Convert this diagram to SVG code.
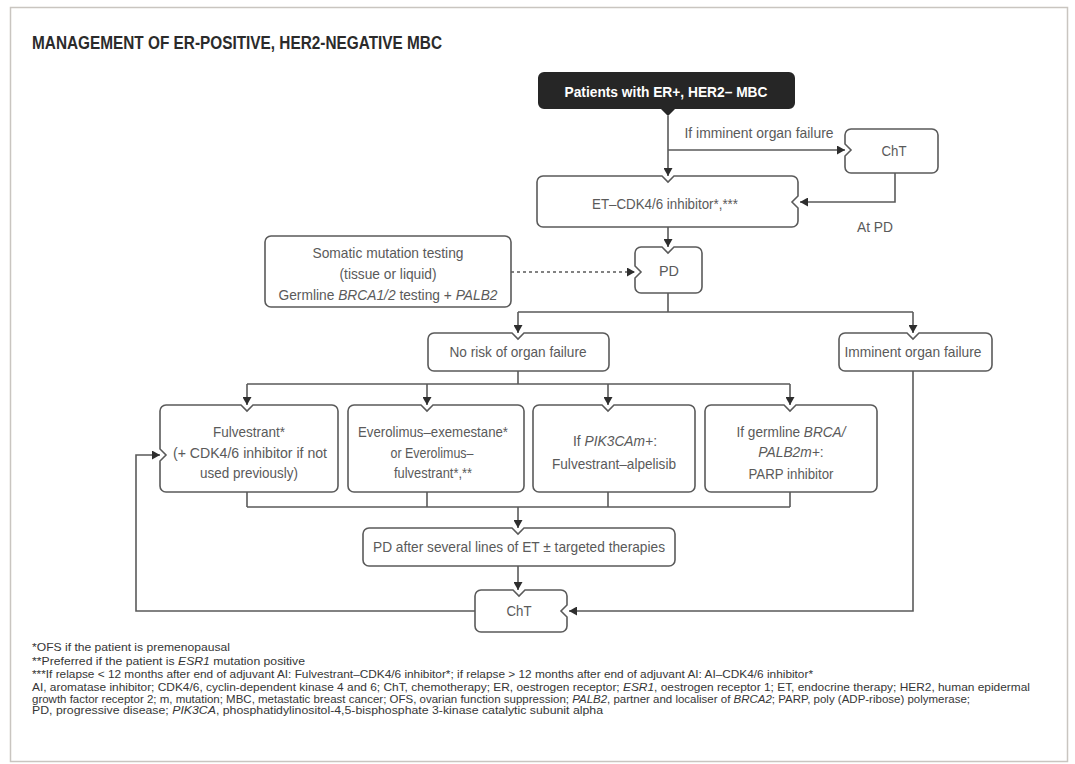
<svg xmlns="http://www.w3.org/2000/svg" width="1075" height="764" viewBox="0 0 1075 764">
<defs>
<marker id="ah" markerUnits="userSpaceOnUse" markerWidth="9" markerHeight="9" refX="8" refY="4.5" orient="auto">
<path d="M0,0 L8,4.5 L0,9 Z" fill="#2e2e2e"/>
</marker>
<style>
.box{fill:#fff;stroke:#5a5a5a;stroke-width:1.6}
.t{font-family:"Liberation Sans",Arial,sans-serif;font-size:14.5px;fill:#5a5a5a;text-anchor:middle}
.ln{fill:none;stroke:#5a5a5a;stroke-width:1.6}
.arr{marker-end:url(#ah)}
.fn{font-family:"Liberation Sans",Arial,sans-serif;font-size:11.5px;fill:#363636}
.i{font-style:italic}
</style>
</defs>
<rect x="0" y="0" width="1075" height="764" fill="#fff"/>
<rect x="10.5" y="7.5" width="1057" height="754" fill="#fff" stroke="#c9c5c0" stroke-width="1.5"/>
<text x="32" y="49" font-family="'Liberation Sans',Arial,sans-serif" font-weight="bold" font-size="18" fill="#2b2b2b" textLength="410" lengthAdjust="spacingAndGlyphs">MANAGEMENT OF ER-POSITIVE, HER2-NEGATIVE MBC</text>

<g id="connectors">
<path class="ln arr" d="M668,116 V176"/>
<path class="ln arr" d="M668,150 H845"/>
<path class="ln arr" d="M895,173 V202 H800"/>
<path class="ln arr" d="M668,227 V247"/>
<path class="ln arr" d="M511,272 H635" stroke-dasharray="3,3"/>
<path class="ln" d="M668,293 V312 M518,312 H913"/>
<path class="ln arr" d="M518,312 V333"/>
<path class="ln arr" d="M913,312 V333"/>
<path class="ln" d="M518,371 V384 M247,384 H790"/>
<path class="ln arr" d="M247,384 V405"/>
<path class="ln arr" d="M427,384 V405"/>
<path class="ln arr" d="M608,384 V405"/>
<path class="ln arr" d="M790,384 V405"/>
<path class="ln" d="M247,492 V507 M427,492 V507 M608,492 V507 M790,492 V507 M247,507 H790"/>
<path class="ln arr" d="M518,507 V528"/>
<path class="ln arr" d="M518,566 V590"/>
<path class="ln arr" d="M913,371 V611 H569"/>
<path class="ln arr" d="M475,611 H136 V455 H160"/>
</g>

<g id="start">
<path d="M544,72 H789 A6 6 0 0 1 795,78 V103 A6 6 0 0 1 789,109 H675 L668,116 L661,109 H544 A6 6 0 0 1 538,103 V78 A6 6 0 0 1 544,72 Z" fill="#262626"/>
<text x="666" y="97" font-family="'Liberation Sans',Arial,sans-serif" font-weight="bold" font-size="14.5" fill="#fff" text-anchor="middle" textLength="203" lengthAdjust="spacingAndGlyphs">Patients with ER+, HER2– MBC</text>
</g>
<text class="t" x="759" y="138" textLength="149" lengthAdjust="spacingAndGlyphs">If imminent organ failure</text>
<text class="t" x="875" y="232" textLength="36" lengthAdjust="spacingAndGlyphs">At PD</text>

<g id="cht1">
<path class="box" d="M851,129 H932 A6 6 0 0 1 938,135 V167 A6 6 0 0 1 932,173 H851 A6 6 0 0 1 845,167 V156 L851,150 L845,144 V135 A6 6 0 0 1 851,129 Z"/>
<text class="t" x="894" y="156" textLength="25" lengthAdjust="spacingAndGlyphs">ChT</text>
</g>

<g id="et">
<path class="box" d="M543,176 H662 L668,182 L674,176 H792 A6 6 0 0 1 798,182 V196 L792,202 L798,208 V221 A6 6 0 0 1 792,227 H543 A6 6 0 0 1 537,221 V182 A6 6 0 0 1 543,176 Z"/>
<text class="t" x="665" y="209" textLength="146" lengthAdjust="spacingAndGlyphs">ET–CDK4/6 inhibitor*,***</text>
</g>

<g id="pd1">
<path class="box" d="M641,247 H662 L668,253 L674,247 H696 A6 6 0 0 1 702,253 V287 A6 6 0 0 1 696,293 H641 A6 6 0 0 1 635,287 V278 L641,272 L635,266 V253 A6 6 0 0 1 641,247 Z"/>
<text class="t" x="669" y="276" textLength="20" lengthAdjust="spacingAndGlyphs">PD</text>
</g>

<g id="testing">
<rect class="box" x="265" y="236" width="246" height="71" rx="6"/>
<text class="t" x="388" y="258" textLength="151" lengthAdjust="spacingAndGlyphs">Somatic mutation testing</text>
<text class="t" x="388" y="279" textLength="97" lengthAdjust="spacingAndGlyphs">(tissue or liquid)</text>
<text class="t" x="388" y="300" textLength="219" lengthAdjust="spacingAndGlyphs">Germline <tspan class="i">BRCA1/2</tspan> testing + <tspan class="i">PALB2</tspan></text>
</g>

<g id="norisk">
<path class="box" d="M434,333 H512 L518,339 L524,333 H603 A6 6 0 0 1 609,339 V365 A6 6 0 0 1 603,371 H434 A6 6 0 0 1 428,365 V339 A6 6 0 0 1 434,333 Z"/>
<text class="t" x="518" y="357" textLength="137" lengthAdjust="spacingAndGlyphs">No risk of organ failure</text>
</g>

<g id="imminent">
<path class="box" d="M845,333 H907 L913,339 L919,333 H986 A6 6 0 0 1 992,339 V365 A6 6 0 0 1 986,371 H845 A6 6 0 0 1 839,365 V339 A6 6 0 0 1 845,333 Z"/>
<text class="t" x="913" y="357" textLength="137" lengthAdjust="spacingAndGlyphs">Imminent organ failure</text>
</g>

<g id="fulvestrant">
<path class="box" d="M166,405 H241 L247,411 L253,405 H332 A6 6 0 0 1 338,411 V486 A6 6 0 0 1 332,492 H166 A6 6 0 0 1 160,486 V461 L166,455 L160,449 V411 A6 6 0 0 1 166,405 Z"/>
<text class="t" x="249" y="437" textLength="72" lengthAdjust="spacingAndGlyphs">Fulvestrant*</text>
<text class="t" x="250" y="458" textLength="154" lengthAdjust="spacingAndGlyphs">(+ CDK4/6 inhibitor if not</text>
<text class="t" x="249" y="478" textLength="98" lengthAdjust="spacingAndGlyphs">used previously)</text>
</g>

<g id="everolimus">
<path class="box" d="M354,405 H421 L427,411 L433,405 H518 A6 6 0 0 1 524,411 V486 A6 6 0 0 1 518,492 H354 A6 6 0 0 1 348,486 V411 A6 6 0 0 1 354,405 Z"/>
<text class="t" x="433" y="437" textLength="150" lengthAdjust="spacingAndGlyphs">Everolimus–exemestane*</text>
<text class="t" x="432" y="458" textLength="83" lengthAdjust="spacingAndGlyphs">or Everolimus–</text>
<text class="t" x="433" y="478" textLength="78" lengthAdjust="spacingAndGlyphs">fulvestrant*,**</text>
</g>

<g id="alpelisib">
<path class="box" d="M539,405 H602 L608,411 L614,405 H689 A6 6 0 0 1 695,411 V486 A6 6 0 0 1 689,492 H539 A6 6 0 0 1 533,486 V411 A6 6 0 0 1 539,405 Z"/>
<text class="t" x="615" y="446" style="font-size:13.8px">If <tspan class="i">PIK3CAm+</tspan>:</text>
<text class="t" x="614" y="469" textLength="124" lengthAdjust="spacingAndGlyphs">Fulvestrant–alpelisib</text>
</g>

<g id="parp">
<path class="box" d="M711,405 H784 L790,411 L796,405 H871 A6 6 0 0 1 877,411 V486 A6 6 0 0 1 871,492 H711 A6 6 0 0 1 705,486 V411 A6 6 0 0 1 711,405 Z"/>
<text class="t" x="791" y="437" textLength="109" lengthAdjust="spacingAndGlyphs">If germline <tspan class="i">BRCA/</tspan></text>
<text class="t" x="791" y="457" style="font-size:13.8px"><tspan class="i">PALB2m+</tspan>:</text>
<text class="t" x="791" y="479" textLength="85" lengthAdjust="spacingAndGlyphs">PARP inhibitor</text>
</g>

<g id="pdafter">
<path class="box" d="M369,528 H512 L518,534 L524,528 H669 A6 6 0 0 1 675,534 V560 A6 6 0 0 1 669,566 H369 A6 6 0 0 1 363,560 V534 A6 6 0 0 1 369,528 Z"/>
<text class="t" x="519" y="552" textLength="292" lengthAdjust="spacingAndGlyphs">PD after several lines of ET ± targeted therapies</text>
</g>

<g id="cht2">
<path class="box" d="M481,590 H513 L519,596 L525,590 H561 A6 6 0 0 1 567,596 V605 L561,611 L567,617 V626 A6 6 0 0 1 561,632 H481 A6 6 0 0 1 475,626 V596 A6 6 0 0 1 481,590 Z"/>
<text class="t" x="519" y="616" textLength="25" lengthAdjust="spacingAndGlyphs">ChT</text>
</g>

<g id="footnotes">
<text class="fn" x="32" y="651" textLength="198" lengthAdjust="spacingAndGlyphs">*OFS if the patient is premenopausal</text>
<text class="fn" x="32" y="665" textLength="273" lengthAdjust="spacingAndGlyphs">**Preferred if the patient is <tspan class="i">ESR1</tspan> mutation positive</text>
<text class="fn" x="32" y="678" textLength="781" lengthAdjust="spacingAndGlyphs">***If relapse &lt; 12 months after end of adjuvant AI: Fulvestrant–CDK4/6 inhibitor*; if relapse &gt; 12 months after end of adjuvant AI: AI–CDK4/6 inhibitor*</text>
<text class="fn" x="32" y="691" textLength="998" lengthAdjust="spacingAndGlyphs">AI, aromatase inhibitor; CDK4/6, cyclin-dependent kinase 4 and 6; ChT, chemotherapy; ER, oestrogen receptor; <tspan class="i">ESR1</tspan>, oestrogen receptor 1; ET, endocrine therapy; HER2, human epidermal</text>
<text class="fn" x="32" y="702.5" textLength="938" lengthAdjust="spacingAndGlyphs">growth factor receptor 2; m, mutation; MBC, metastatic breast cancer; OFS, ovarian function suppression; <tspan class="i">PALB2</tspan>, partner and localiser of <tspan class="i">BRCA2</tspan>; PARP, poly (ADP-ribose) polymerase;</text>
<text class="fn" x="32" y="714" textLength="571" lengthAdjust="spacingAndGlyphs">PD, progressive disease; <tspan class="i">PIK3CA</tspan>, phosphatidylinositol-4,5-bisphosphate 3-kinase catalytic subunit alpha</text>
</g>
</svg>
